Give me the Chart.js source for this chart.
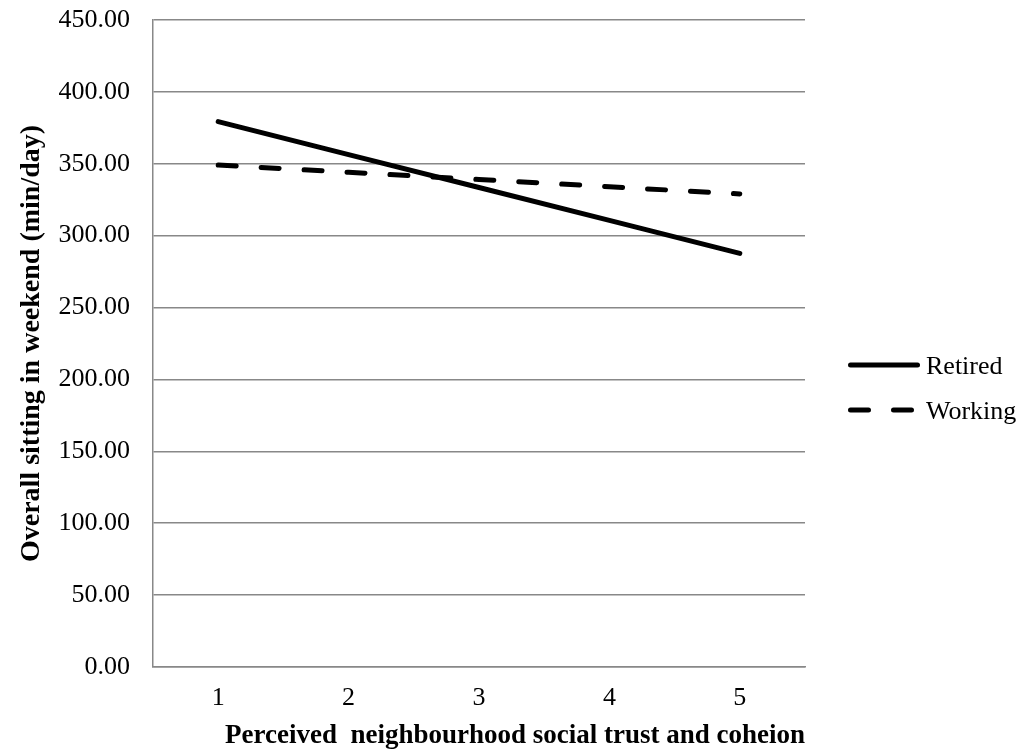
<!DOCTYPE html>
<html>
<head>
<meta charset="utf-8">
<script src="https://cdn.jsdelivr.net/npm/chart.js@4.4.1/dist/chart.umd.min.js"></script>
<style>
  html, body { margin: 0; padding: 0; background: #ffffff; }
  #wrap { width: 1024px; height: 755px; }
</style>
</head>
<body>
<div id="wrap"><canvas id="c" width="1024" height="755"></canvas></div>
<script>
const categories = ['1', '2', '3', '4', '5'];
const retired = [379.3, 356.4, 333.5, 310.6, 287.7];
const working = [349.1, 344.1, 339.1, 334.0, 329.0];
const seriesNames = ['Retired', 'Working'];
const yTitle = 'Overall sitting in weekend (min/day)';
const xTitle = 'Perceived  neighbourhood social trust and coheion';

const FONT = "'Liberation Serif', 'Times New Roman', serif";
const GRID = '#888888';
const DASH = [18, 25];

const legendPlugin = {
  id: 'sideLegend',
  afterDraw(chart) {
    const ctx = chart.ctx;
    const items = chart.data.datasets;
    const rows = [365, 410];
    ctx.save();
    items.forEach((ds, i) => {
      const y = rows[i];
      ctx.beginPath();
      ctx.lineWidth = 5;
      ctx.lineCap = 'round';
      ctx.strokeStyle = '#000';
      ctx.setLineDash(ds.borderDash || []);
      ctx.moveTo(850.5, y);
      ctx.lineTo(917.5, y);
      ctx.stroke();
      ctx.setLineDash([]);
      ctx.fillStyle = '#000';
      ctx.font = '26px ' + FONT;
      ctx.textAlign = 'left';
      ctx.textBaseline = 'alphabetic';
      ctx.fillText(ds.label, 926, y + 9);
    });
    ctx.restore();
  }
};

new Chart(document.getElementById('c'), {
  type: 'line',
  data: {
    labels: categories,
    datasets: [
      { label: seriesNames[0], data: retired, borderColor: '#000', borderWidth: 5,
        borderCapStyle: 'round', pointRadius: 0, tension: 0, fill: false },
      { label: seriesNames[1], data: working, borderColor: '#000', borderWidth: 5,
        borderCapStyle: 'round', borderDash: DASH, pointRadius: 0, tension: 0, fill: false }
    ]
  },
  options: {
    responsive: false,
    animation: false,
    layout: { padding: { left: 0, right: 219, top: 20, bottom: 0 } },
    plugins: { legend: { display: false }, tooltip: { enabled: false } },
    scales: {
      x: {
        type: 'category',
        offset: true,
        grid: { display: false, drawTicks: false },
        border: { display: true, color: GRID, width: 1.5 },
        ticks: { color: '#000', font: { family: FONT, size: 26 }, padding: 16, maxRotation: 0 },
        title: { display: true, text: xTitle, align: 'end', color: '#000',
                 font: { family: FONT, size: 27, weight: 'bold' }, padding: { top: 0, bottom: 3 } },
        afterFit(scale) { scale.height = 88; scale.paddingLeft = 0; scale.paddingRight = 0; }
      },
      y: {
        min: 0, max: 450,
        grid: { color: GRID, lineWidth: 1.5, drawTicks: false },
        border: { display: true, color: GRID, width: 1.5 },
        ticks: { stepSize: 50, color: '#000', font: { family: FONT, size: 26 }, padding: 23,
                 callback: v => Number(v).toFixed(2) },
        title: { display: true, text: yTitle, color: '#000',
                 font: { family: FONT, size: 28, weight: 'bold' }, padding: { top: 15, bottom: 0 } },
        afterFit(scale) { scale.width = 153; scale.paddingTop = 0; scale.paddingBottom = 0; }
      }
    }
  },
  plugins: [legendPlugin]
});
</script>
</body>
</html>
